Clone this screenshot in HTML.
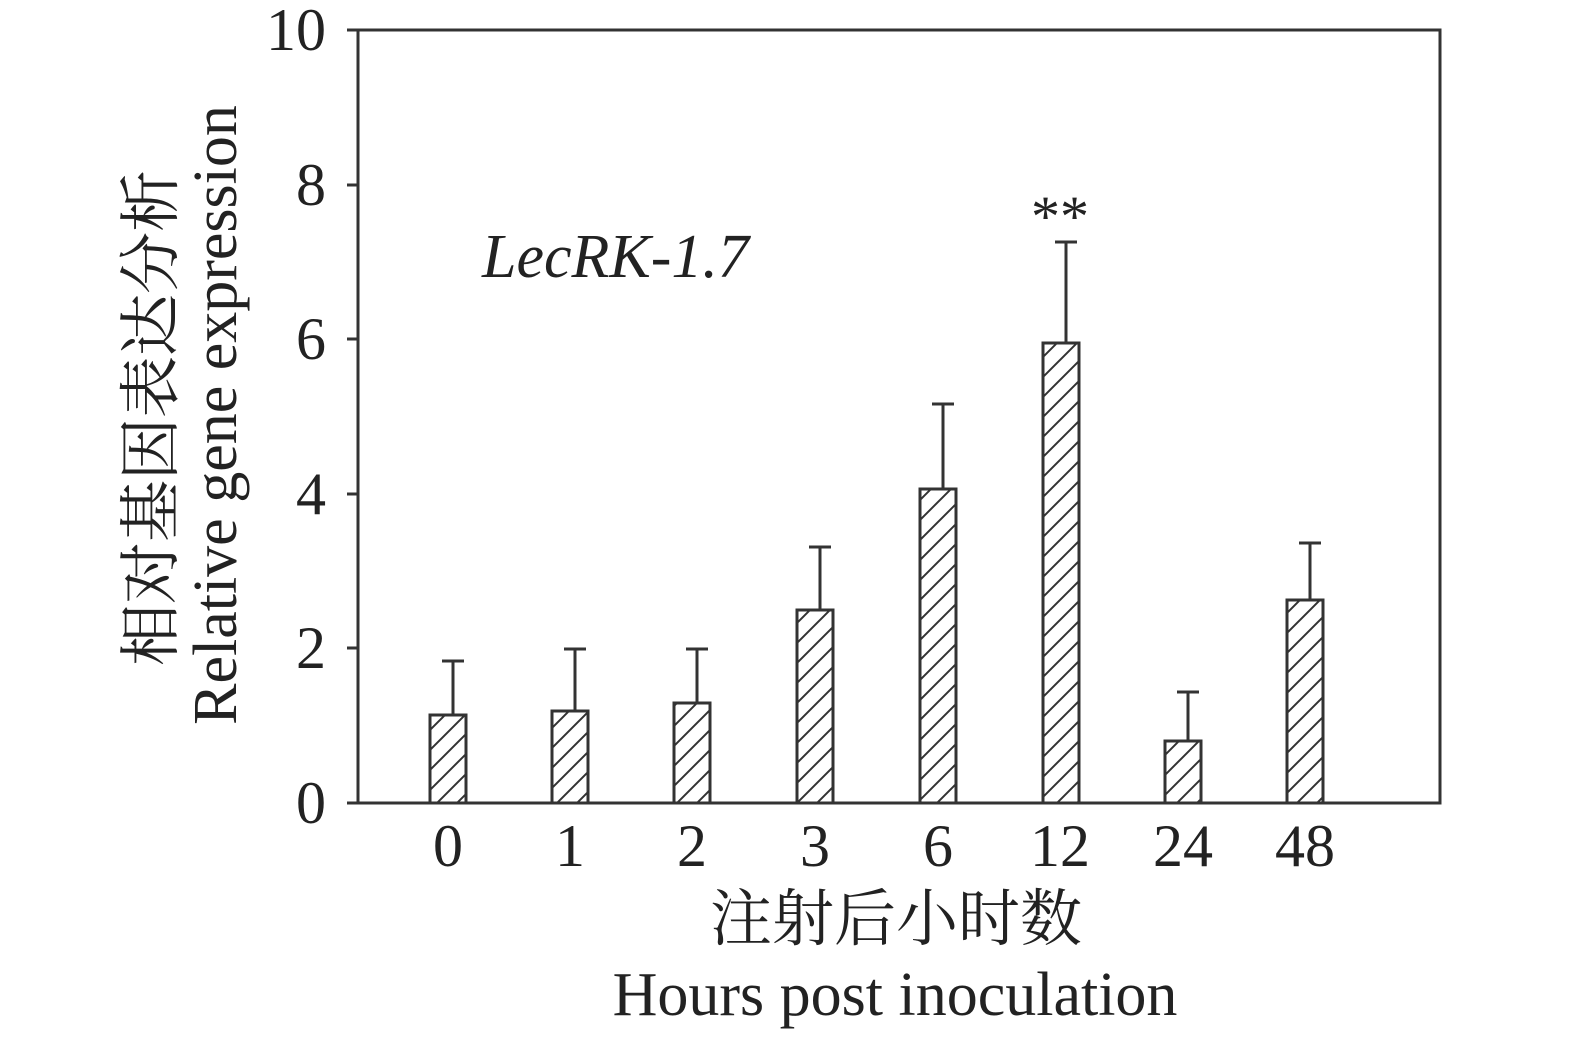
<!DOCTYPE html><html><head><style>body{margin:0;background:#fff}</style></head><body>
<svg width="1575" height="1041" xmlns="http://www.w3.org/2000/svg" font-family="Liberation Serif, Noto Serif CJK SC, serif" fill="#222">
<defs><pattern id="h" width="20" height="20" patternUnits="userSpaceOnUse"><path d="M-5,25 L25,-5 M-5,5 L5,-5 M15,25 L25,15" stroke="#333" stroke-width="2"/></pattern></defs>
<g stroke="#333" stroke-width="3" fill="none">
<path d="M358,30 H1440 V803 H358 Z"/>
<path d="M347,30H358 M347,185H358 M347,339H358 M347,494H358 M347,648H358 M347,803H358"/>
</g>
<g font-size="60" text-anchor="end">
<text x="326" y="50">10</text><text x="326" y="205">8</text><text x="326" y="359">6</text><text x="326" y="514">4</text><text x="326" y="668">2</text><text x="326" y="823">0</text></g>
<g font-size="60" text-anchor="middle">
<text x="448" y="866">0</text><text x="570" y="866">1</text><text x="692" y="866">2</text><text x="815" y="866">3</text><text x="938" y="866">6</text><text x="1060" y="866">12</text><text x="1183" y="866">24</text><text x="1305" y="866">48</text>
<text x="896" y="940" font-size="62">注射后小时数</text>
<text x="895" y="1015" font-size="62">Hours post inoculation</text>
<text x="1060" y="236" font-size="58">**</text>
</g>
<text x="482" y="277" font-size="62" font-style="italic">LecRK-1.7</text>
<g transform="rotate(-90)" font-size="62" text-anchor="middle">
<text x="-418" y="172">相对基因表达分析</text>
<text x="-415" y="236">Relative gene expression</text>
</g>
<g stroke="#333" stroke-width="3">
<g fill="url(#h)">
<rect x="430" y="715" width="36" height="88"/><rect x="552" y="711" width="36" height="92"/><rect x="674" y="703" width="36" height="100"/><rect x="797" y="610" width="36" height="193"/><rect x="920" y="489" width="36" height="314"/><rect x="1043" y="343" width="36" height="460"/><rect x="1165" y="741" width="36" height="62"/><rect x="1287" y="600" width="36" height="203"/>
</g>
<path fill="none" d="M453,715V661M442,661H464 M575,711V649M564,649H586 M697,703V649M686,649H708 M820,610V547M809,547H831 M943,489V404M932,404H954 M1066,343V242M1055,242H1077 M1188,741V692M1177,692H1199 M1310,600V543M1299,543H1321"/>
</g>
</svg></body></html>
